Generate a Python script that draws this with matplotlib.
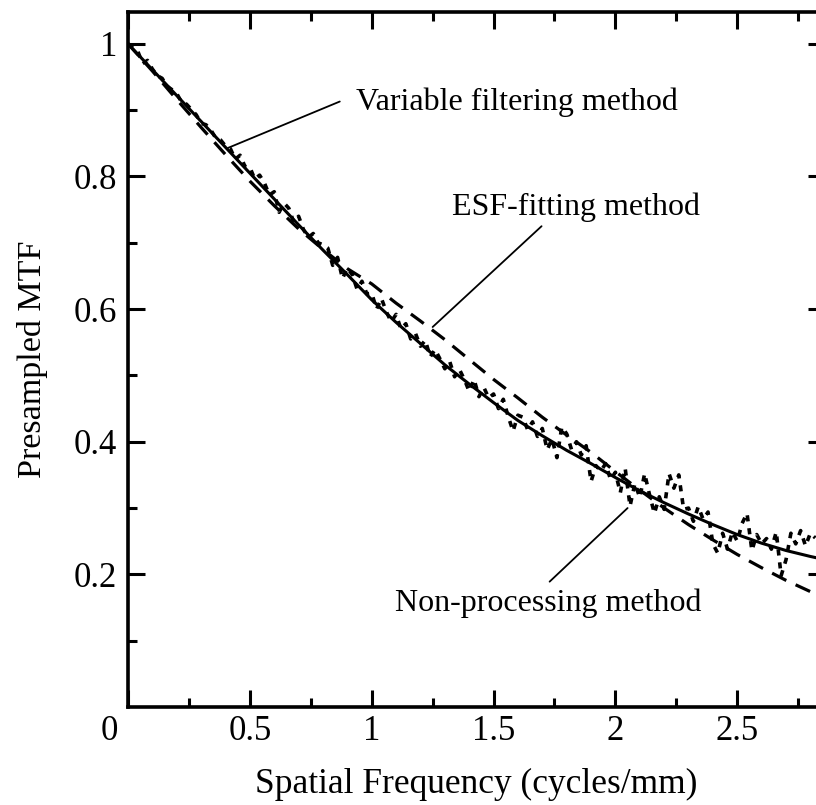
import numpy as np
import matplotlib
matplotlib.use("Agg")
import matplotlib.pyplot as plt
from matplotlib.transforms import ScaledTranslation

plt.rcParams['font.family'] = ['Liberation Serif', 'DejaVu Serif']

# --- data ---
x_fit = [0.0, 0.1, 0.2, 0.3, 0.4, 0.5, 0.6, 0.7, 0.8, 0.9, 1.0, 1.1, 1.2, 1.3, 1.4,
         1.5, 1.6, 1.7, 1.8, 1.9, 2.0, 2.1, 2.2, 2.3, 2.4, 2.5, 2.6, 2.7, 2.8, 2.85]
variable_filtering = [1.000, 0.961, 0.922, 0.883, 0.844, 0.805, 0.766, 0.727, 0.689, 0.652,
                      0.614, 0.580, 0.548, 0.516, 0.487, 0.459, 0.432, 0.409, 0.387, 0.367,
                      0.346, 0.326, 0.308, 0.291, 0.275, 0.260, 0.247, 0.236, 0.227, 0.223]
esf_fitting = [1.000, 0.959, 0.916, 0.874, 0.833, 0.793, 0.756, 0.721, 0.690, 0.661,
               0.638, 0.609, 0.582, 0.554, 0.524, 0.494, 0.466, 0.437, 0.410, 0.384,
               0.355, 0.327, 0.300, 0.275, 0.252, 0.230, 0.210, 0.191, 0.174, 0.166]

x_raw = [0.00, 0.02, 0.04, 0.06, 0.08, 0.10, 0.12, 0.14, 0.16, 0.18,
         0.20, 0.22, 0.24, 0.26, 0.28, 0.30, 0.32, 0.34, 0.36, 0.38,
         0.40, 0.42, 0.44, 0.46, 0.48, 0.50, 0.52, 0.54, 0.56, 0.58,
         0.60, 0.62, 0.64, 0.66, 0.68, 0.70, 0.72, 0.74, 0.76, 0.78,
         0.80, 0.82, 0.84, 0.86, 0.88, 0.90, 0.92, 0.94, 0.96, 0.98,
         1.00, 1.02, 1.04, 1.06, 1.08, 1.10, 1.12, 1.14, 1.16, 1.18,
         1.20, 1.22, 1.24, 1.26, 1.28, 1.30, 1.32, 1.34, 1.36, 1.38,
         1.40, 1.42, 1.44, 1.46, 1.48, 1.50, 1.52, 1.54, 1.56, 1.58,
         1.60, 1.62, 1.64, 1.66, 1.68, 1.70, 1.72, 1.74, 1.76, 1.78,
         1.80, 1.82, 1.84, 1.86, 1.88, 1.90, 1.92, 1.94, 1.96, 1.98,
         2.00, 2.02, 2.04, 2.06, 2.08, 2.10, 2.12, 2.14, 2.16, 2.18,
         2.20, 2.22, 2.24, 2.26, 2.28, 2.30, 2.32, 2.34, 2.36, 2.38,
         2.40, 2.42, 2.44, 2.46, 2.48, 2.50, 2.52, 2.54, 2.56, 2.58,
         2.60, 2.62, 2.64, 2.66, 2.68, 2.70, 2.72, 2.74, 2.76, 2.78,
         2.80, 2.82]
non_processing = [1.000, 0.996, 0.989, 0.970, 0.975, 0.962, 0.952, 0.948, 0.936, 0.931,
                  0.925, 0.912, 0.909, 0.901, 0.893, 0.880, 0.878, 0.870, 0.858, 0.855,
                  0.846, 0.842, 0.826, 0.832, 0.815, 0.814, 0.796, 0.802, 0.790, 0.772,
                  0.777, 0.746, 0.760, 0.752, 0.731, 0.740, 0.720, 0.708, 0.714, 0.700,
                  0.697, 0.692, 0.666, 0.678, 0.646, 0.662, 0.652, 0.630, 0.642, 0.623,
                  0.624, 0.600, 0.616, 0.596, 0.581, 0.592, 0.570, 0.578, 0.555, 0.563,
                  0.544, 0.553, 0.528, 0.539, 0.525, 0.510, 0.521, 0.498, 0.509, 0.494,
                  0.476, 0.494, 0.468, 0.482, 0.466, 0.472, 0.450, 0.464, 0.438, 0.416,
                  0.440, 0.437, 0.418, 0.430, 0.408, 0.420, 0.388, 0.404, 0.376, 0.422,
                  0.412, 0.388, 0.400, 0.380, 0.394, 0.340, 0.364, 0.356, 0.367, 0.343,
                  0.354, 0.323, 0.360, 0.303, 0.337, 0.316, 0.352, 0.320, 0.292, 0.317,
                  0.298, 0.352, 0.330, 0.350, 0.298, 0.300, 0.280, 0.302, 0.283, 0.294,
                  0.246, 0.232, 0.262, 0.238, 0.264, 0.250, 0.277, 0.292, 0.236, 0.260,
                  0.246, 0.254, 0.238, 0.264, 0.198, 0.222, 0.262, 0.246, 0.266, 0.243,
                  0.262, 0.255]

x_ticks = [0, 0.5, 1, 1.5, 2, 2.5]
x_ticklabels = ["0", "0.5", "1", "1.5", "2", "2.5"]
y_ticks = [0.2, 0.4, 0.6, 0.8, 1.0]
y_ticklabels = ["0.2", "0.4", "0.6", "0.8", "1"]

W, H = 816, 805
fig = plt.figure(figsize=(W / 100, H / 100), dpi=100)
left, right, top, bottom = 128, 825, 12, 707
ax = fig.add_axes([left / W, 1 - bottom / H, (right - left) / W, (bottom - top) / H])

ax.plot(x_fit, variable_filtering, color='black', lw=2.2, solid_capstyle='butt')
ax.plot(x_fit, esf_fitting, color='black', lw=2.3, linestyle=(0, (5, 3.2)))
ax.plot(x_raw, non_processing, color='black', lw=2.6, linestyle=(0, (1.7, 1.9)))

ax.set_xlim(0, 2.86)
ax.set_ylim(0, 1.048)

ax.set_xticks(x_ticks)
ax.set_xticklabels(x_ticklabels)
ax.set_xticks([0.25, 0.75, 1.25, 1.75, 2.25, 2.75], minor=True)
ax.set_yticks(y_ticks)
ax.set_yticklabels(y_ticklabels)
ax.set_yticks([0.1, 0.3, 0.5, 0.7, 0.9], minor=True)

ax.tick_params(which='both', direction='in', top=True, right=True, width=2.2, colors='black')
ax.tick_params(which='major', length=12.5)
ax.tick_params(which='minor', length=6.5)
ax.tick_params(axis='x', which='major', labelsize=25, pad=6)
ax.tick_params(axis='y', which='major', labelsize=25, pad=8)
for s in ax.spines.values():
    s.set_linewidth(2.6)

# shift the x "0" label left as in the reference
lab0 = ax.get_xticklabels()[0]
lab0.set_transform(lab0.get_transform() + ScaledTranslation(-0.19, 0, fig.dpi_scale_trans))

ax.set_xlabel("Spatial Frequency (cycles/mm)", fontsize=25.5, labelpad=14)
ax.set_ylabel("Presampled MTF", fontsize=24.5, labelpad=18)

line_kw = dict(arrowstyle='-', color='black', lw=1.3, shrinkA=0, shrinkB=0)
ax.text(0.935, 0.912, "Variable filtering method", fontsize=23, va='center', ha='left')
ax.annotate("", xy=(0.41, 0.843), xytext=(0.869, 0.913), arrowprops=line_kw)
ax.text(1.33, 0.753, "ESF-fitting method", fontsize=23, va='center', ha='left')
ax.annotate("", xy=(1.25, 0.573), xytext=(1.697, 0.725), arrowprops=line_kw)
ax.text(1.095, 0.157, "Non-processing method", fontsize=23, va='center', ha='left')
ax.annotate("", xy=(2.05, 0.30), xytext=(1.73, 0.189), arrowprops=line_kw)

fig.savefig("out.png", dpi=100)
